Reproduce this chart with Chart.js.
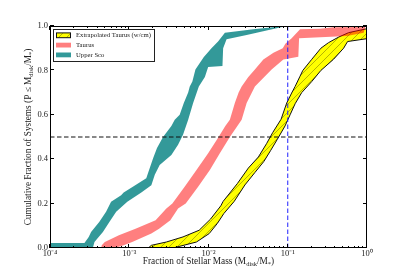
<!DOCTYPE html>
<html>
<head>
<meta charset="utf-8">
<script src="https://cdn.jsdelivr.net/npm/chart.js@4.4.1/dist/chart.umd.min.js"></script>
<style>
  html, body { margin: 0; padding: 0; background: #fff; }
</style>
</head>
<body>
<canvas id="myChart" width="407" height="275"></canvas>
<script>
const massTicks = [1e-4, 1e-3, 1e-2, 1e-1, 1];
const fracTicks = [0, 0.2, 0.4, 0.6, 0.8, 1.0];
const minorSteps = [2, 3, 4, 5, 6, 7, 8, 9];
const medianFrac = 0.5;
const cutoffMass = 0.1;

// band edges, [M_disk/M_*, cumulative fraction]
const extrapLeft = [
  [1.74e-3, 0], [1.9e-3, 0.012], [2.94e-3, 0.027], [4.77e-3, 0.05], [7.62e-3, 0.08],
  [1.06e-2, 0.13], [1.43e-2, 0.19], [1.53e-2, 0.21], [2.31e-2, 0.29], [3.18e-2, 0.36],
  [4.26e-2, 0.41], [5.4e-2, 0.47], [6.46e-2, 0.52], [8.24e-2, 0.58], [9.7e-2, 0.653],
  [0.112, 0.698], [0.124, 0.728], [0.143, 0.774], [0.155, 0.8], [0.201, 0.85],
  [0.262, 0.9], [0.327, 0.925], [0.438, 0.95], [0.586, 0.97], [1.0, 0.988], [1.3, 1.0]
];
const extrapRight = [
  [3.57e-3, 0], [7.05e-3, 0.027], [1.02e-2, 0.065], [1.29e-2, 0.11], [1.56e-2, 0.155],
  [2.11e-2, 0.21], [2.88e-2, 0.284], [3.85e-2, 0.34], [5.0e-2, 0.39], [6.1e-2, 0.44],
  [7.4e-2, 0.49], [9.25e-2, 0.55], [0.107, 0.6], [0.124, 0.65], [0.150, 0.7],
  [0.201, 0.75], [0.262, 0.8], [0.378, 0.85], [0.507, 0.9], [0.569, 0.93], [1.0, 0.943], [10, 1.0]
];
const taurusLeft = [
  [4.42e-4, 0], [4.5e-4, 0.012], [4.92e-4, 0.027], [7.4e-4, 0.057], [1.2e-3, 0.087],
  [2.15e-3, 0.125], [2.94e-3, 0.178], [3.5e-3, 0.2], [5.0e-3, 0.276], [7.05e-3, 0.351],
  [9.9e-3, 0.427], [1.34e-2, 0.5], [1.63e-2, 0.55], [1.86e-2, 0.578], [2.15e-2, 0.653],
  [2.4e-2, 0.7], [2.62e-2, 0.728], [3.18e-2, 0.77], [3.85e-2, 0.804], [4.92e-2, 0.849],
  [6.6e-2, 0.879], [8.65e-2, 0.9], [9.33e-2, 0.92], [0.112, 0.945], [0.143, 0.985],
  [0.256, 0.988], [0.378, 0.994], [0.944, 0.995]
];
const taurusRight = [
  [6.5e-4, 0], [8.5e-4, 0.012], [1.09e-3, 0.027], [1.9e-3, 0.065], [2.38e-3, 0.087],
  [3.3e-3, 0.125], [4.13e-3, 0.178], [5.16e-3, 0.2], [7.4e-3, 0.276], [1.04e-2, 0.351],
  [1.39e-2, 0.427], [1.86e-2, 0.5], [2.62e-2, 0.578], [3.03e-2, 0.653], [3.85e-2, 0.728],
  [6.26e-2, 0.804], [8.8e-2, 0.849], [0.136, 0.862], [0.139, 0.945], [0.559, 0.955],
  [0.908, 0.97], [0.953, 0.995]
];
const uscoLeft = [
  [1e-4, 0], [1e-4, 0.022], [2.72e-4, 0.022], [3.08e-4, 0.05], [3.3e-4, 0.072],
  [4.2e-4, 0.118], [5.1e-4, 0.163], [5.9e-4, 0.208], [7.9e-4, 0.238], [8.5e-4, 0.25],
  [1.11e-3, 0.276], [1.64e-3, 0.314], [1.81e-3, 0.359], [2.0e-3, 0.404], [2.24e-3, 0.45],
  [2.67e-3, 0.5], [3.4e-3, 0.55], [3.75e-3, 0.578], [4.33e-3, 0.6], [4.88e-3, 0.653],
  [5.54e-3, 0.7], [5.8e-3, 0.728], [6.26e-3, 0.75], [6.84e-3, 0.804], [8.73e-3, 0.86],
  [1.09e-2, 0.9], [1.32e-2, 0.93], [1.61e-2, 0.97], [3.67e-2, 0.985], [9.25e-2, 1.0]
];
const uscoRight = [
  [3.47e-4, 0], [3.64e-4, 0.027], [4.65e-4, 0.072], [5.64e-4, 0.118], [6.84e-4, 0.163],
  [9.45e-4, 0.208], [1.42e-3, 0.25], [1.9e-3, 0.283], [2.1e-3, 0.33], [2.42e-3, 0.374],
  [3.4e-3, 0.419], [4.13e-3, 0.465], [4.77e-3, 0.51], [5.54e-3, 0.578], [6.4e-3, 0.653],
  [7.55e-3, 0.728], [9.0e-3, 0.77], [9.9e-3, 0.815], [1.5e-2, 0.82], [1.53e-2, 0.9],
  [1.69e-2, 0.94], [3.03e-2, 0.96], [5.4e-2, 0.98], [9.7e-2, 1.0]
];

const SERIF = "'Liberation Serif', 'Times New Roman', serif";
const SUP = { "-": "\u207B", "0": "\u2070", "1": "\u00B9", "2": "\u00B2", "3": "\u00B3", "4": "\u2074" };

const toPts = (arr) => arr.map(([x, y]) => ({ x, y }));

const canvas = document.getElementById("myChart");
const ctx = canvas.getContext("2d");

// yellow with "/" hatching
function makeHatch() {
  const n = 8;
  const c = document.createElement("canvas");
  c.width = n;
  c.height = n;
  const g = c.getContext("2d");
  g.fillStyle = "#ffff00";
  g.fillRect(0, 0, n, n);
  g.strokeStyle = "rgba(80,80,0,0.6)";
  g.lineWidth = 0.7;
  g.beginPath();
  g.moveTo(0, n); g.lineTo(n, 0);
  g.moveTo(-2, 2); g.lineTo(2, -2);
  g.moveTo(n - 2, n + 2); g.lineTo(n + 2, n - 2);
  g.stroke();
  return ctx.createPattern(c, "repeat");
}
const hatch = makeHatch();

function drawRich(c, parts, x, y, size) {
  let w = 0;
  parts.forEach(([t, sub]) => {
    c.font = (sub ? size * 0.7 : size) + "px " + SERIF;
    w += c.measureText(t).width;
  });
  let px = x - w / 2;
  c.textAlign = "left";
  c.textBaseline = "alphabetic";
  parts.forEach(([t, sub]) => {
    c.font = (sub ? size * 0.7 : size) + "px " + SERIF;
    c.fillText(t, px, y + (sub ? size * 0.22 : 0));
    px += c.measureText(t).width;
  });
}

const decor = {
  id: "decor",
  afterDraw(chart) {
    const { ctx: c, chartArea: a, scales: { x, y } } = chart;
    c.save();
    c.strokeStyle = "#000";
    c.lineWidth = 1;
    c.beginPath();
    fracTicks.forEach((v) => {
      const py = Math.round(y.getPixelForValue(v)) - 0.5;
      c.moveTo(a.left, py); c.lineTo(a.left + 4, py);
      c.moveTo(a.right, py); c.lineTo(a.right - 4, py);
    });
    massTicks.forEach((v, i) => {
      const px = Math.round(x.getPixelForValue(v)) - 0.5;
      c.moveTo(px, a.bottom); c.lineTo(px, a.bottom - 4);
      c.moveTo(px, a.top); c.lineTo(px, a.top + 4);
      if (i < massTicks.length - 1) {
        minorSteps.forEach((m) => {
          const qx = Math.round(x.getPixelForValue(v * m)) - 0.5;
          c.moveTo(qx, a.bottom); c.lineTo(qx, a.bottom - 2);
          c.moveTo(qx, a.top); c.lineTo(qx, a.top + 2);
        });
      }
    });
    c.stroke();
    c.strokeRect(a.left + 0.5, a.top + 0.5, a.right - a.left - 1, a.bottom - a.top - 1);

    // axis titles
    c.fillStyle = "#222";
    drawRich(c, [["Fraction of Stellar Mass (M"], ["disk", 1], ["/M"], ["*", 1], [")"]],
      (a.left + a.right) / 2, 264, 9.3);
    c.save();
    c.translate(28, (a.top + a.bottom) / 2);
    c.rotate(-Math.PI / 2);
    drawRich(c, [["Cumulative Fraction of Systems (P \u2264 M"], ["disk", 1], ["/M"], ["*", 1], [")"]],
      0, 3, 9.3);
    c.restore();

    // legend
    const bx = 53.5, by = 29.5, bw = 101, bh = 32;
    c.fillStyle = "#fff";
    c.fillRect(bx, by, bw, bh);
    c.strokeStyle = "#222";
    c.strokeRect(bx, by, bw, bh);
    const items = chart.data.datasets.filter((d) => d.label);
    c.font = "6.7px " + SERIF;
    c.textBaseline = "middle";
    items.forEach((d, i) => {
      const cy = 35.3 + i * 9.8;
      c.fillStyle = d.backgroundColor;
      c.fillRect(56, cy - 2.4, 15, 4.8);
      if (d.borderColor && d.borderColor !== "transparent") {
        c.strokeStyle = d.borderColor;
        c.strokeRect(56.5, cy - 2.4, 14, 4.8);
      }
      c.fillStyle = "#222";
      c.fillText(d.label, 76, cy);
    });
    c.restore();
  }
};

new Chart(ctx, {
  type: "line",
  data: {
    datasets: [
      {
        data: toPts(medianLine()),
        borderColor: "#111",
        borderWidth: 1,
        borderDash: [4.5, 2.5],
        order: 0
      },
      {
        data: toPts([[cutoffMass, 0], [cutoffMass, 1]]),
        borderColor: "#2020ff",
        borderWidth: 1,
        borderDash: [4.5, 2.5],
        order: 0
      },
      {
        data: toPts(extrapLeft),
        borderColor: "#111",
        borderWidth: 1,
        order: 3
      },
      {
        label: "Extrapolated Taurus (w/cm)",
        data: toPts(extrapRight),
        borderColor: "#111",
        borderWidth: 1,
        backgroundColor: hatch,
        fill: 2,
        order: 3
      },
      {
        data: toPts(taurusLeft),
        borderColor: "transparent",
        borderWidth: 1,
        order: 2
      },
      {
        label: "Taurus",
        data: toPts(taurusRight),
        borderColor: "transparent",
        borderWidth: 1,
        backgroundColor: "rgba(255,0,0,0.5)",
        fill: 4,
        order: 2
      },
      {
        data: toPts(uscoLeft),
        borderColor: "transparent",
        borderWidth: 1,
        order: 1
      },
      {
        label: "Upper Sco",
        data: toPts(uscoRight),
        borderColor: "transparent",
        borderWidth: 1,
        backgroundColor: "rgba(0,128,128,0.8)",
        fill: 6,
        order: 1
      }
    ]
  },
  options: {
    responsive: false,
    animation: false,
    devicePixelRatio: 1,
    indexAxis: "y",
    layout: { padding: { left: 0, right: 40, top: 26, bottom: 0 } },
    elements: { point: { radius: 0 }, line: { tension: 0 } },
    plugins: { legend: { display: false }, tooltip: { enabled: false } },
    scales: {
      x: {
        type: "logarithmic",
        min: 1e-4,
        max: 1,
        grid: { display: false, drawTicks: false },
        border: { display: false },
        afterBuildTicks: (s) => { s.ticks = massTicks.map((v) => ({ value: v })); },
        afterFit: (s) => { s.height = 27; },
        ticks: {
          padding: 1,
          autoSkip: false,
          maxRotation: 0,
          color: "#222",
          font: { family: SERIF, size: 8.5 },
          callback: (v) => "10" + String(Math.round(Math.log10(v))).split("").map((ch) => SUP[ch]).join("")
        }
      },
      y: {
        type: "linear",
        min: 0,
        max: 1,
        grid: { display: false, drawTicks: false },
        border: { display: false },
        afterBuildTicks: (s) => { s.ticks = fracTicks.map((v) => ({ value: v })); },
        afterFit: (s) => { s.width = 50; },
        ticks: {
          padding: 2,
          color: "#222",
          font: { family: SERIF, size: 8.5 },
          callback: (v) => v.toFixed(1)
        }
      }
    }
  },
  plugins: [decor]
});

function medianLine() {
  return [[massTicks[0], medianFrac], [massTicks[massTicks.length - 1], medianFrac]];
}
</script>
</body>
</html>
